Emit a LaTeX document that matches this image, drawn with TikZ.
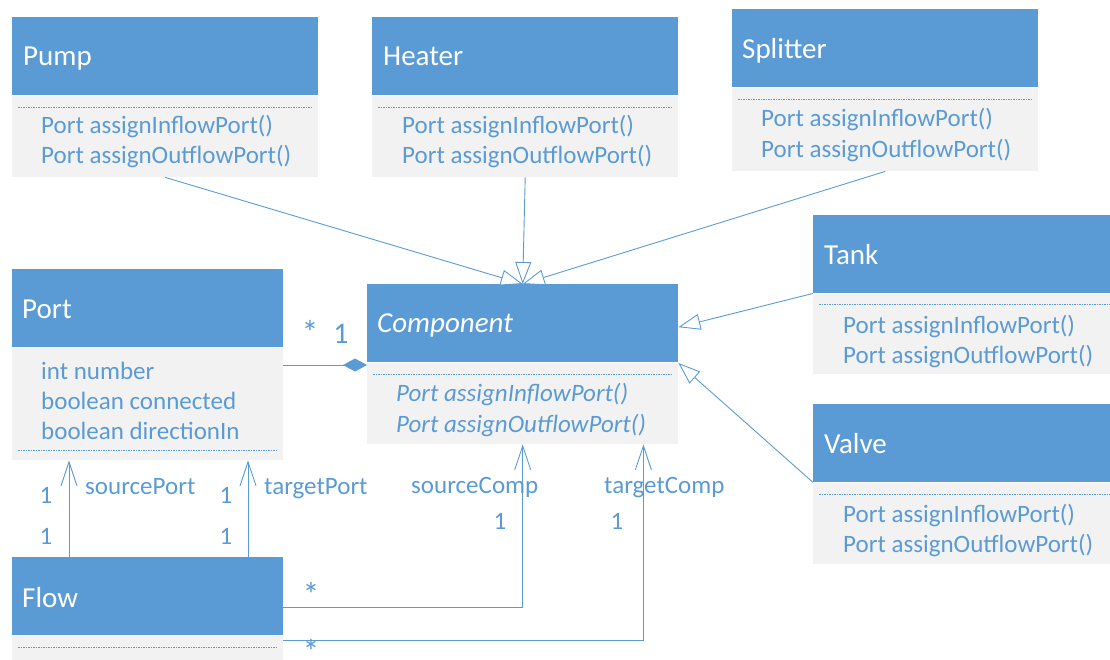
\documentclass[tikz,border=0pt]{standalone}
\usepackage{fontspec}
\setmainfont{Carlito}
\usetikzlibrary{arrows.meta,calc}
\definecolor{umlblue}{RGB}{91,155,213}
\definecolor{umlgray}{RGB}{242,242,242}
\begin{document}
\begin{tikzpicture}[x=1pt,y=-1pt,
  hdr/.style={fill=umlblue, draw=none, anchor=north west, inner sep=0pt, minimum height=78pt},
  bodybox/.style={fill=umlgray, draw=none, anchor=north west, inner sep=0pt},
  title/.style={anchor=base west, inner sep=0pt, text=white, font=\fontsize{29}{34}\selectfont},
  member/.style={anchor=base west, inner sep=0pt, text=umlblue, font=\fontsize{25}{30}\selectfont},
  lbl/.style={anchor=base west, inner sep=0pt, text=umlblue, font=\fontsize{25}{30}\selectfont},
  star/.style={anchor=center, inner sep=0pt, text=umlblue, font=\fontsize{34}{40}\selectfont},
  sep/.style={draw=umlblue, line width=1pt, dash pattern=on 1.5pt off 1pt},
  link/.style={draw=umlblue, line width=0.9pt},
  gen/.style={link, -{Triangle[open, length=22pt, width=16pt, fill=white]}},
  nav/.style={link, -{Straight Barb[length=24pt, width=16pt]}},
  compo/.style={link, {Diamond[length=24pt, width=13pt, fill=umlblue]}-},
]
\useasboundingbox (0,0) rectangle (1110,659);

% ---- Pump
\node[hdr, minimum width=306pt] (pumph) at (12,17) {};
\node[bodybox, minimum width=306pt, minimum height=81pt] (pumpb) at (12,96) {};
\node[title] (pumpt) at (23,65) {Pump};
\draw[sep] ([shift={(6pt,-11pt)}]pumpb.north west) -- ([shift={(-6pt,-11pt)}]pumpb.north east);
\node[member] (pumpm1) at (41,133) {Port assignInflowPort()};
\node[member] (pumpm2) at (41,163) {Port assignOutflowPort()};

% ---- Heater
\node[hdr, minimum width=306pt] (heaterh) at (372,17) {};
\node[bodybox, minimum width=306pt, minimum height=81pt] (heaterb) at (372,96) {};
\node[title] (heatert) at (383,65) {Heater};
\draw[sep] ([shift={(6pt,-11pt)}]heaterb.north west) -- ([shift={(-6pt,-11pt)}]heaterb.north east);
\node[member] (heaterm1) at (402,133) {Port assignInflowPort()};
\node[member] (heaterm2) at (402,163) {Port assignOutflowPort()};

% ---- Splitter
\node[hdr, minimum width=306pt] (splith) at (732,9) {};
\node[bodybox, minimum width=306pt, minimum height=83pt] (splitb) at (732,88) {};
\node[title] (splitt) at (742,58) {Splitter};
\draw[sep] ([shift={(6pt,-11pt)}]splitb.north west) -- ([shift={(-6pt,-11pt)}]splitb.north east);
\node[member] (splitm1) at (761,126) {Port assignInflowPort()};
\node[member] (splitm2) at (761,157) {Port assignOutflowPort()};

% ---- Tank
\node[hdr, minimum width=297pt] (tankh) at (813,215) {};
\node[bodybox, minimum width=297pt, minimum height=80pt] (tankb) at (813,294) {};
\node[title] (tankt) at (824,264) {Tank};
\draw[sep] ([shift={(6pt,-10pt)}]tankb.north west) -- ([shift={(0pt,-10pt)}]tankb.north east);
\node[member] (tankm1) at (843,333) {Port assignInflowPort()};
\node[member] (tankm2) at (843,363) {Port assignOutflowPort()};

% ---- Valve
\node[hdr, minimum width=297pt] (valveh) at (813,404) {};
\node[bodybox, minimum width=297pt, minimum height=81pt] (valveb) at (813,483) {};
\node[title] (valvet) at (824,453) {Valve};
\draw[sep] ([shift={(6pt,-11pt)}]valveb.north west) -- ([shift={(0pt,-11pt)}]valveb.north east);
\node[member] (valvem1) at (843,522) {Port assignInflowPort()};
\node[member] (valvem2) at (843,552) {Port assignOutflowPort()};

% ---- Port
\node[hdr, minimum width=271pt] (porth) at (12,269) {};
\node[bodybox, minimum width=271pt, minimum height=112pt] (portb) at (12,348) {};
\node[title] (portt) at (22,318) {Port};
\node[member] (porta1) at (41,379) {int number};
\node[member] (porta2) at (41,409) {boolean connected};
\node[member] (porta3) at (41,439) {boolean directionIn};
\draw[sep] ([shift={(6pt,10pt)}]portb.south west) -- ([shift={(-6pt,10pt)}]portb.south east);

% ---- Component (abstract)
\node[hdr, minimum width=311pt] (comph) at (367,284) {};
\node[bodybox, minimum width=311pt, minimum height=81pt] (compb) at (367,363) {};
\node[title, font=\fontsize{29}{34}\selectfont\itshape] (compt) at (377,332) {Component};
\draw[sep] ([shift={(6pt,-11pt)}]compb.north west) -- ([shift={(-6pt,-11pt)}]compb.north east);
\node[member, font=\fontsize{25}{30}\selectfont\itshape] (compm1) at (396,401) {Port assignInflowPort()};
\node[member, font=\fontsize{25}{30}\selectfont\itshape] (compm2) at (396,432) {Port assignOutflowPort()};

% ---- Flow
\node[hdr, minimum width=271pt] (flowh) at (12,557) {};
\node[bodybox, minimum width=271pt, minimum height=24pt] (flowb) at (12,636) {};
\node[title] (flowt) at (22,607) {Flow};
\draw[sep] ([shift={(6pt,-11pt)}]flowb.north west) -- ([shift={(-6pt,-11pt)}]flowb.north east);

% ---- generalisations
\draw[gen] (pumpb.south) -- (comph.north);
\draw[gen] (heaterb.south) -- (comph.north);
\draw[gen] (splitb.south) -- (comph.north);
\draw[gen] (tankh.south west) -- ([yshift=-4pt]comph.east);
\draw[gen] (valveh.south west) -- (compb.north east);

% ---- composition Port * -- 1 Component
\coordinate (compjoin) at ([yshift=-2pt]compb.north west);
\draw[compo] (compjoin) -- (compjoin -| portb.east);
\node[star] (mstar) at (310,332) {*};
\node[lbl, anchor=base, font=\fontsize{30}{36}\selectfont] (mone) at (341,343) {1};

% ---- Flow -> Port
\draw[nav] ([xshift=57pt]flowh.north west) -- ([xshift=57pt]portb.south west);
\draw[nav] ([xshift=236pt]flowh.north west) -- ([xshift=236pt]portb.south west);
\node[lbl, anchor=base] (sp1) at (46,503) {1};
\node[lbl, anchor=base] (sp2) at (46,544) {1};
\node[lbl] (spl) at (85,494) {sourcePort};
\node[lbl, anchor=base] (tp1) at (226,503) {1};
\node[lbl, anchor=base] (tp2) at (226,544) {1};
\node[lbl] (tpl) at (264,494) {targetPort};

% ---- Flow -> Component
\coordinate (fsrc) at ([yshift=-11pt]flowh.east);
\draw[nav] (fsrc) -| (compb.south);
\coordinate (ftgt) at ([yshift=-4pt]flowb.north east);
\coordinate (ctgt) at ([xshift=-35pt]compb.south east);
\draw[nav] (ftgt) -| (ctgt);
\node[lbl] (scl) at (411,493) {sourceComp};
\node[lbl, anchor=base] (sc1) at (500,529) {1};
\node[lbl] (tcl) at (604,493) {targetComp};
\node[lbl, anchor=base] (tc1) at (617,529) {1};
\node[star] (fstar1) at (311,594) {*};
\node[star] (fstar2) at (311,651) {*};
\end{tikzpicture}
\end{document}
